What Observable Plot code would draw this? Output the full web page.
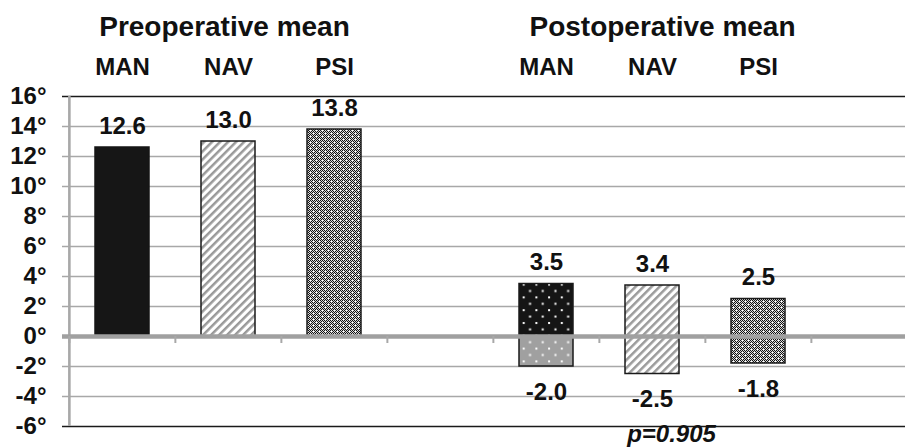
<!DOCTYPE html>
<html>
<head>
<meta charset="utf-8">
<script src="https://cdn.jsdelivr.net/npm/d3@7"></script>
<script src="https://cdn.jsdelivr.net/npm/@observablehq/plot@0.6"></script>
<style>
  body { margin: 0; background: #fff; }
  #chart svg { display: block; }
</style>
</head>
<body>
<svg width="0" height="0" style="position:absolute">
  <defs>
    <pattern id="hatch" patternUnits="userSpaceOnUse" width="5.66" height="5.66" patternTransform="rotate(45)">
      <rect width="5.66" height="5.66" fill="#fff"></rect>
      <rect width="2.5" height="5.66" fill="#9a9a9a"></rect>
    </pattern>
    <pattern id="dense" patternUnits="userSpaceOnUse" width="6" height="6"></pattern>
    <pattern id="dotsBlack" patternUnits="userSpaceOnUse" width="12.7" height="12.8">
      <rect width="12.7" height="12.8" fill="#151515"></rect>
      <rect x="2" y="2" width="2" height="2" fill="#fff"></rect>
      <rect x="8.35" y="8.4" width="2" height="2" fill="#fff"></rect>
    </pattern>
    <pattern id="dotsGray" patternUnits="userSpaceOnUse" width="12.7" height="12.8">
      <rect width="12.7" height="12.8" fill="#a0a0a0"></rect>
      <rect x="2" y="2" width="2" height="2" fill="#fff"></rect>
      <rect x="8.35" y="8.4" width="2" height="2" fill="#fff"></rect>
    </pattern>
  </defs>
</svg>
<div id="chart"></div>
<script>
// ---- data ----
const groups = ["Preoperative mean", "Postoperative mean"];
const categories = ["MAN", "NAV", "PSI"];
const preValues = [12.6, 13.0, 13.8];
const postUpper = [3.5, 3.4, 2.5];
const postLower = [-2.0, -2.5, -1.8];
const yTicks = [-6, -4, -2, 0, 2, 4, 6, 8, 10, 12, 14, 16];
const pLabel = "p=0.905";

// ---- dense checker pattern (style only) ----
(function buildDense() {
  const p = document.getElementById("dense");
  const ns = "http://www.w3.org/2000/svg";
  for (let i = 0; i < 6; i++) for (let j = 0; j < 6; j++) {
    const r = document.createElementNS(ns, "rect");
    r.setAttribute("x", i); r.setAttribute("y", j);
    r.setAttribute("width", 1); r.setAttribute("height", 1);
    let c = (i + j) % 2 === 0 ? "#111" : "#d8d8d8";
    if ((i === 1 && j === 1) || (i === 4 && j === 4)) c = "#fff";
    r.setAttribute("fill", c);
    p.appendChild(r);
  }
})();

// ---- derived tables ----
const slots = groups.flatMap((g, gi) => [...categories.map(c => `${gi}-${c}`), `${gi}-gap`]);
const fills = {
  pre: {MAN: "#161616", NAV: "url(#hatch)", PSI: "url(#dense)"},
  up: {MAN: "url(#dotsBlack)", NAV: "url(#hatch)", PSI: "url(#dense)"},
  low: {MAN: "url(#dotsGray)", NAV: "url(#hatch)", PSI: "url(#dense)"}
};
const bars = [
  ...categories.map((c, i) => ({slot: `0-${c}`, cat: c, part: "pre", y1: 0, y2: preValues[i], v: preValues[i]})),
  ...categories.map((c, i) => ({slot: `1-${c}`, cat: c, part: "up", y1: 0, y2: postUpper[i], v: postUpper[i]})),
  ...categories.map((c, i) => ({slot: `1-${c}`, cat: c, part: "low", y1: postLower[i], y2: 0, v: postLower[i]}))
];
const catLabels = groups.flatMap((g, gi) => categories.map(c => ({slot: `${gi}-${c}`, text: c})));

const W = 905, H = 447;
const xRange = [68, 918];
const step = (xRange[1] - xRange[0]) / slots.length;
const yMin = d3.min(yTicks), yMax = d3.max(yTicks);
const font = "Liberation Sans, Arial, sans-serif";
const ink = "#111";

const chart = Plot.plot({
  width: W,
  height: H,
  marginTop: 96,
  marginBottom: 21,
  marginLeft: 68,
  marginRight: 0,
  style: {fontFamily: font, background: "#fff", overflow: "hidden"},
  x: {domain: slots, range: xRange, paddingInner: 0.49, paddingOuter: 0.245, axis: null},
  y: {domain: [yMin, yMax], label: null, axis: null},
  color: {type: "identity"},
  marks: [
    Plot.ruleY(yTicks.filter(v => v !== 0 && v !== yMin && v !== yMax), {stroke: "#a8a8a8", strokeWidth: 1.6, insetLeft: -6}),
    Plot.ruleY([yMin, yMax], {stroke: "#1a1a1a", strokeWidth: 1.6, insetLeft: -6}),
    Plot.ruleX([slots[0]], {x: d => d, y1: () => yMin, y2: () => yMax, dx: -step / 2, stroke: "#a8a8a8", strokeWidth: 2.6}),
    Plot.barY(bars, {
      x: "slot", y1: "y1", y2: "y2",
      fill: d => fills[d.part][d.cat],
      stroke: d => d.part === "pre" && d.cat === "MAN" ? "#161616" : "#1a1a1a",
      strokeWidth: 1.5
    }),
    Plot.ruleY([0], {stroke: "#a0a0a0", strokeWidth: 4.5, insetLeft: -6}),
    Plot.ruleX(slots, {x: d => d, y1: () => 0, y2: () => 0, dx: -step / 2, insetTop: 0, insetBottom: -7, stroke: "#a8a8a8", strokeWidth: 2}),
    Plot.text(bars.filter(d => d.v > 0), {x: "slot", y: "v", text: d => d.v.toFixed(1), lineAnchor: "bottom", dy: -14, fontSize: 24, fontWeight: "bold", fill: ink}),
    Plot.text(bars.filter(d => d.v < 0), {x: "slot", y: "v", text: d => d.v.toFixed(1), lineAnchor: "bottom", dy: 33, fontSize: 24, fontWeight: "bold", fill: ink}),
    Plot.text(catLabels, {x: "slot", text: "text", frameAnchor: "top", lineAnchor: "bottom", dy: -22, fontSize: 24, fontWeight: "bold", fill: ink}),
    Plot.text([groups[0]], {x: () => `0-${categories[1]}`, text: d => d, frameAnchor: "top", lineAnchor: "bottom", dy: -61, dx: -4, fontSize: 28, fontWeight: "bold", fill: ink}),
    Plot.text([groups[1]], {x: () => `1-${categories[1]}`, text: d => d, frameAnchor: "top", lineAnchor: "bottom", dy: -61, dx: 10, fontSize: 28, fontWeight: "bold", fill: ink}),
    Plot.text([pLabel], {x: () => `1-${categories[1]}`, text: d => d, frameAnchor: "bottom", lineAnchor: "bottom", dy: 15, dx: 19, fontSize: 24, fontWeight: "bold", fontStyle: "italic", fill: ink}),
    Plot.axisY(yTicks, {tickSize: 0, tickPadding: 22, tickFormat: d => `${d}°`, fontSize: 24, fontWeight: "bold", fill: ink, label: null})
  ]
});
document.getElementById("chart").appendChild(chart);
</script>
</body>
</html>
